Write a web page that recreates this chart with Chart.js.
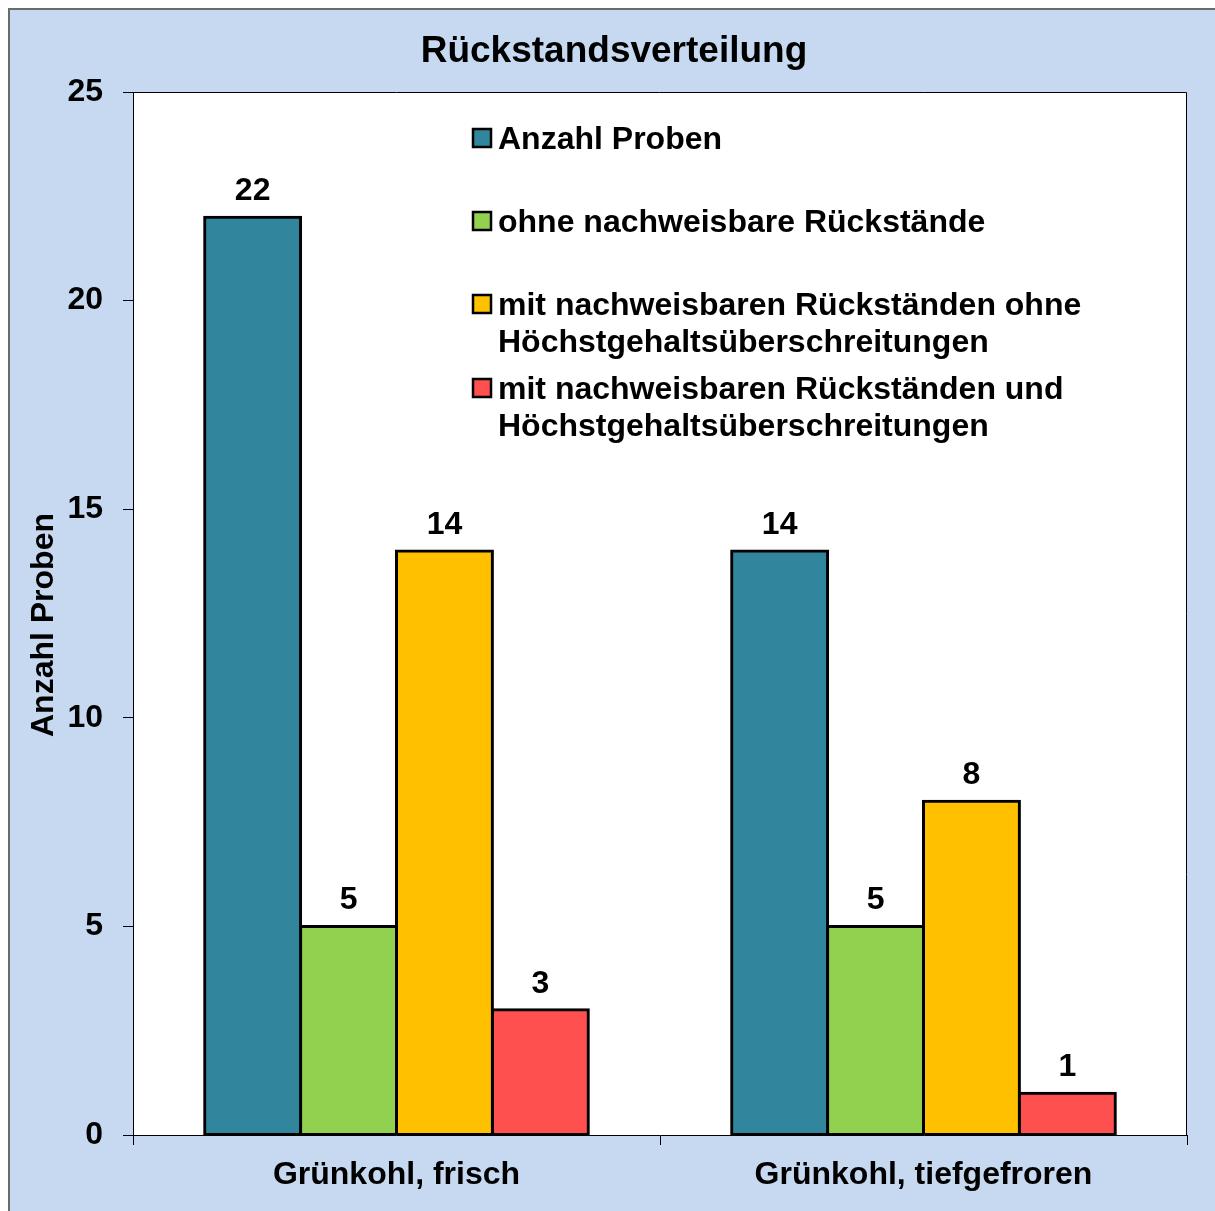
<!DOCTYPE html>
<html>
<head>
<meta charset="utf-8">
<script src="https://cdn.jsdelivr.net/npm/chart.js@4"></script>
<style>
  html, body { margin: 0; padding: 0; background: #ffffff; overflow: hidden; }
  #wrap { width: 1215px; height: 1211px; position: relative; }
</style>
</head>
<body>
<div id="wrap"><canvas id="c"></canvas></div>
<script>
const chartTitle = 'Rückstandsverteilung';
const yAxisTitle = 'Anzahl Proben';
const categories = ['Grünkohl, frisch', 'Grünkohl, tiefgefroren'];
const seriesNames = [
  'Anzahl Proben',
  'ohne nachweisbare Rückstände',
  'mit nachweisbaren Rückständen ohne Höchstgehaltsüberschreitungen',
  'mit nachweisbaren Rückständen und Höchstgehaltsüberschreitungen'
];
const anzahlProben = [22, 14];
const ohneRueckstaende = [5, 5];
const mitOhneUeberschreitung = [14, 8];
const mitUeberschreitung = [3, 1];
const seriesColors = ['#31859C', '#92D050', '#FFC000', '#FF5050'];
const yTicks = [0, 5, 10, 15, 20, 25];

const FONT = '"Liberation Sans", Arial, sans-serif';

const framePlugin = {
  id: 'frame',
  beforeDraw(chart) {
    const ctx = chart.ctx, a = chart.chartArea;
    ctx.save();
    ctx.fillStyle = '#C6D9F1';
    ctx.fillRect(8, 8, chart.width, chart.height);
    ctx.strokeStyle = '#6b6b6b';
    ctx.lineWidth = 2;
    ctx.beginPath();
    ctx.moveTo(9, chart.height);
    ctx.lineTo(9, 9);
    ctx.lineTo(chart.width, 9);
    ctx.stroke();
    ctx.fillStyle = '#ffffff';
    ctx.fillRect(a.left, a.top, a.right - a.left, a.bottom - a.top);
    ctx.fillStyle = '#000';
    // chart title
    ctx.font = 'bold 37px ' + FONT;
    ctx.textAlign = 'center';
    ctx.textBaseline = 'middle';
    ctx.fillText(chartTitle, 614, 52);
    // y axis title
    ctx.font = 'bold 32px ' + FONT;
    ctx.translate(44, 625);
    ctx.rotate(-Math.PI / 2);
    ctx.fillText(yAxisTitle, 0, 0);
    ctx.restore();
  },
  beforeDatasetsDraw(chart) {
    const ctx = chart.ctx, a = chart.chartArea;
    ctx.save();
    ctx.strokeStyle = '#000';
    ctx.lineWidth = 1;
    ctx.beginPath();
    ctx.moveTo(a.left, Math.round(a.top) + 0.5);
    ctx.lineTo(Math.round(a.right) - 0.5, Math.round(a.top) + 0.5);
    ctx.lineTo(Math.round(a.right) - 0.5, a.bottom);
    ctx.stroke();
    ctx.restore();
  },
  afterDatasetsDraw(chart) {
    const ctx = chart.ctx;
    ctx.save();
    ctx.fillStyle = '#000';
    ctx.font = 'bold 32px ' + FONT;
    ctx.textAlign = 'center';
    ctx.textBaseline = 'middle';
    chart.data.datasets.forEach((ds, i) => {
      const meta = chart.getDatasetMeta(i);
      meta.data.forEach((el, j) => {
        ctx.fillText(String(ds.data[j]), el.x, el.y - 26);
      });
    });
    // legend
    const boxX = 473, textX = 498, maxW = 640, lineH = 37;
    const rowY = [140, 223, 306, 390];
    chart.data.datasets.forEach((ds, i) => {
      const words = ds.label.split(' ');
      const lines = [];
      let cur = '';
      words.forEach(w => {
        const t = cur ? cur + ' ' + w : w;
        if (ctx.measureText(t).width > maxW && cur) { lines.push(cur); cur = w; } else cur = t;
      });
      lines.push(cur);
      const y0 = rowY[i];
      ctx.fillStyle = ds.backgroundColor;
      ctx.fillRect(boxX, y0 - 11, 18, 18);
      ctx.strokeStyle = '#000';
      ctx.lineWidth = 2.5;
      ctx.strokeRect(boxX, y0 - 11, 18, 18);
      ctx.fillStyle = '#000';
      ctx.textAlign = 'left';
      lines.forEach((ln, k) => ctx.fillText(ln, textX, y0 + k * lineH));
    });
    ctx.restore();
  }
};

const series = [anzahlProben, ohneRueckstaende, mitOhneUeberschreitung, mitUeberschreitung];

new Chart(document.getElementById('c'), {
  type: 'bar',
  data: {
    labels: categories,
    datasets: series.map((vals, i) => ({
      label: seriesNames[i],
      data: vals,
      backgroundColor: seriesColors[i],
      borderColor: '#000',
      borderWidth: 3,
      borderSkipped: false,
      inflateAmount: 1.5,
      categoryPercentage: 0.728,
      barPercentage: 1.0
    }))
  },
  options: {
    responsive: true,
    maintainAspectRatio: false,
    animation: false,
    layout: { padding: { left: 0, top: 92, right: 28, bottom: 0 } },
    plugins: {
      legend: { display: false },
      title: { display: false },
      tooltip: { enabled: false }
    },
    scales: {
      x: {
        afterFit(s) { s.height = 76; },
        grid: { offset: true, drawOnChartArea: false, drawTicks: true, tickLength: 10, tickColor: '#000', tickWidth: 1 },
        border: { display: true, color: '#000', width: 1 },
        ticks: { color: '#000', padding: 11, font: { family: FONT, size: 32, weight: 'bold' } }
      },
      y: {
        min: 0,
        max: 25,
        afterFit(s) { s.width = 133; },
        afterBuildTicks(s) { s.ticks = yTicks.map(v => ({ value: v })); },
        grid: { drawOnChartArea: false, drawTicks: true, tickLength: 10, tickColor: '#000', tickWidth: 1 },
        border: { display: true, color: '#000', width: 1 },
        ticks: { color: '#000', padding: 20, font: { family: FONT, size: 32, weight: 'bold' } },
        title: { display: false }
      }
    }
  },
  plugins: [framePlugin]
});
</script>
</body>
</html>
